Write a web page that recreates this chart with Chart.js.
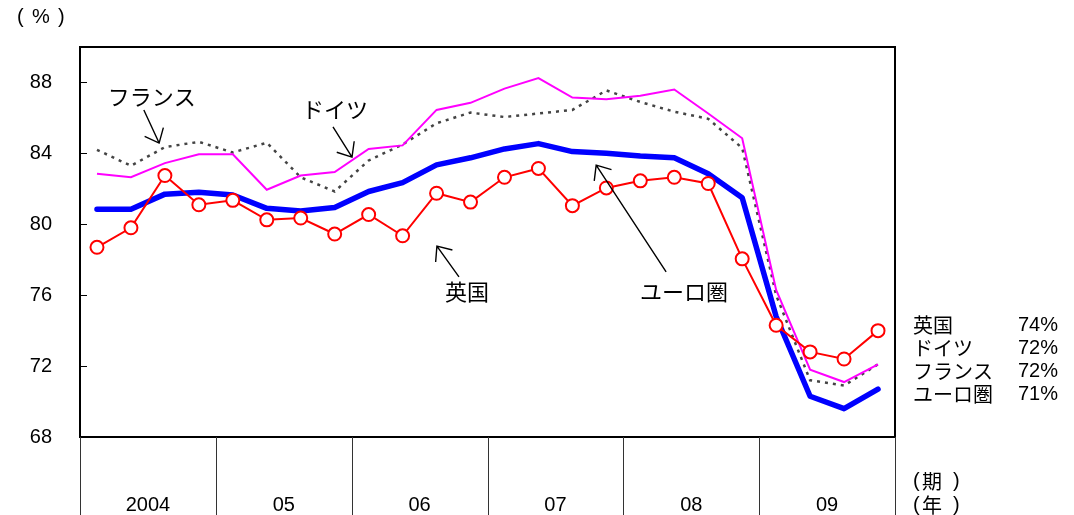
<!DOCTYPE html>
<html lang="ja">
<head>
<meta charset="UTF-8">
<title>製造業稼働率</title>
<script src="https://cdn.jsdelivr.net/npm/chart.js"></script>
<style>
  html, body { margin: 0; padding: 0; background: #fff; }
  #wrap { width: 1074px; height: 515px; }
</style>
</head>
<body>
<div id="wrap"><canvas id="chart" width="1074" height="515"></canvas></div>
<script>
// 2004Q1 - 2009Q4, quarterly capacity utilisation (%)
const years = ['2004', '05', '06', '07', '08', '09'];
const quarters = years.flatMap(y => ['1', '2', '3', '4'].map(q => y + '-' + q));

const uk      = [78.7, 79.8, 82.75, 81.1, 81.35, 80.25, 80.35, 79.45, 80.55, 79.35, 81.75, 81.25,
                 82.65, 83.15, 81.05, 82.05, 82.45, 82.65, 82.3, 78.05, 74.3, 72.8, 72.4, 74.0];
const euro    = [80.85, 80.85, 81.7, 81.8, 81.65, 80.9, 80.75, 80.95, 81.85, 82.35, 83.35, 83.75,
                 84.25, 84.55, 84.1, 84.0, 83.85, 83.75, 82.85, 81.5, 74.8, 70.3, 69.6, 70.7];
const germany = [82.85, 82.65, 83.45, 83.95, 83.95, 81.95, 82.75, 82.95, 84.25, 84.45, 86.45, 86.85,
                 87.65, 88.25, 87.15, 87.05, 87.25, 87.6, 86.25, 84.85, 76.3, 71.8, 71.1, 72.1];
const france  = [84.2, 83.3, 84.35, 84.65, 84.05, 84.6, 82.65, 81.85, 83.6, 84.5, 85.7, 86.3,
                 86.05, 86.25, 86.45, 87.55, 86.9, 86.35, 85.95, 84.3, 76.0, 71.2, 70.9, 72.1];

const yTicks = [68, 72, 76, 80, 84, 88];

// latest values shown on the right
const lastNames  = ['英国', 'ドイツ', 'フランス', 'ユーロ圏'];
const lastValues = ['74%', '72%', '72%', '71%'];

const jpFont = '"Noto Sans CJK JP", sans-serif';
const numFont = '"Liberation Sans", Arial, sans-serif';

// callouts, in data space: text anchor (index, value), arrow tail -> tip
const callouts = [
  { text: 'フランス', at: [0.32, 87.18], tail: [1.38, 86.45], tip: [1.83, 84.58] },
  { text: 'ドイツ',   at: [6.04, 86.45], tail: [6.95, 85.49], tip: [7.51, 83.79] },
  { text: '英国',     at: [10.25, 76.18], tail: [10.66, 77.03], tip: [10.01, 78.77] },
  { text: 'ユーロ圏', at: [15.99, 76.18], tail: [16.76, 77.31], tip: [14.70, 83.34] }
];

function arrow(ctx, x1, y1, x2, y2) {
  const a = Math.atan2(y2 - y1, x2 - x1);
  const h = 16, s = 0.7;
  ctx.beginPath();
  ctx.moveTo(x1, y1);
  ctx.lineTo(x2, y2);
  ctx.moveTo(x2 - h * Math.cos(a - s), y2 - h * Math.sin(a - s));
  ctx.lineTo(x2, y2);
  ctx.lineTo(x2 - h * Math.cos(a + s), y2 - h * Math.sin(a + s));
  ctx.stroke();
}

const decor = {
  id: 'decor',
  afterDraw(chart) {
    const { ctx, chartArea: ca, scales: { x, y } } = chart;
    const H = chart.height;
    ctx.save();

    // frame
    ctx.strokeStyle = '#000';
    ctx.lineWidth = 2;
    ctx.strokeRect(ca.left, ca.top, ca.right - ca.left, ca.bottom - ca.top);

    // inward y ticks
    ctx.lineWidth = 1.2;
    ctx.beginPath();
    yTicks.forEach(v => {
      const py = Math.round(y.getPixelForValue(v)) + 0.5;
      ctx.moveTo(ca.left, py);
      ctx.lineTo(ca.left + 7, py);
    });
    ctx.stroke();

    // year separators below the plot
    ctx.strokeStyle = '#333';
    ctx.lineWidth = 1;
    ctx.beginPath();
    for (let k = 0; k <= years.length; k++) {
      let px;
      if (k === 0) px = ca.left;
      else if (k === years.length) px = ca.right;
      else px = (x.getPixelForValue(4 * k - 1) + x.getPixelForValue(4 * k)) / 2;
      px = Math.round(px) + 0.5;
      ctx.moveTo(px, ca.bottom);
      ctx.lineTo(px, H);
    }
    ctx.stroke();

    ctx.fillStyle = '#000';
    ctx.font = '20px ' + numFont;
    ctx.textAlign = 'center';
    ctx.textBaseline = 'middle';
    years.forEach((yr, k) => {
      const px = (x.getPixelForValue(4 * k + 1) + x.getPixelForValue(4 * k + 2)) / 2;
      ctx.fillText(yr, px, 505);
    });

    // unit labels
    ctx.font = '20px ' + numFont;
    ctx.textAlign = 'left';
    ctx.fillText('(', 17, 17);
    ctx.fillText('%', 32, 17);
    ctx.fillText(')', 58, 17);

    const ux = ca.right + 18;
    ctx.fillText('(', ux, 481);
    ctx.fillText(')', ux + 40, 481);
    ctx.fillText('(', ux, 505);
    ctx.fillText(')', ux + 40, 505);
    ctx.font = '20px ' + jpFont;
    ctx.fillText('期', ux + 9, 481);
    ctx.fillText('年', ux + 9, 505);

    // latest values block
    lastNames.forEach((n, i) => {
      const py = 325 + i * 23.3;
      ctx.font = '20px ' + jpFont;
      ctx.textAlign = 'left';
      ctx.fillText(n, ux, py);
      ctx.font = '20px ' + numFont;
      ctx.textAlign = 'right';
      ctx.fillText(lastValues[i], 1058, py);
    });

    // callouts
    ctx.font = '22px ' + jpFont;
    ctx.textAlign = 'left';
    ctx.strokeStyle = '#000';
    ctx.lineWidth = 1.4;
    callouts.forEach(c => {
      ctx.fillText(c.text, x.getPixelForValue(c.at[0]), y.getPixelForValue(c.at[1]));
      arrow(ctx,
        x.getPixelForValue(c.tail[0]), y.getPixelForValue(c.tail[1]),
        x.getPixelForValue(c.tip[0]), y.getPixelForValue(c.tip[1]));
    });

    ctx.restore();
  }
};

new Chart(document.getElementById('chart'), {
  type: 'line',
  data: {
    labels: quarters,
    datasets: [
      {
        label: '英国',
        data: uk,
        borderColor: '#ff0000',
        borderWidth: 2,
        pointRadius: 6.5,
        pointBorderWidth: 2,
        pointBackgroundColor: '#ffffff',
        pointBorderColor: '#ff0000',
        tension: 0
      },
      {
        label: 'ユーロ圏',
        data: euro,
        borderColor: '#0000ff',
        borderWidth: 5.5,
        pointRadius: 0,
        borderJoinStyle: 'round',
        borderCapStyle: 'round',
        tension: 0
      },
      {
        label: 'ドイツ',
        data: germany,
        borderColor: '#ff00ff',
        borderWidth: 2,
        pointRadius: 0,
        tension: 0
      },
      {
        label: 'フランス',
        data: france,
        borderColor: '#444444',
        borderWidth: 2.5,
        borderDash: [3, 5],
        pointRadius: 0,
        tension: 0
      }
    ]
  },
  options: {
    responsive: false,
    animation: false,
    events: [],
    layout: { padding: { top: 47, right: 179, bottom: 78, left: 0 } },
    plugins: {
      legend: { display: false },
      tooltip: { enabled: false }
    },
    scales: {
      x: {
        type: 'category',
        offset: true,
        display: false
      },
      y: {
        min: 68,
        max: 90,
        afterBuildTicks: s => { s.ticks = yTicks.map(v => ({ value: v })); },
        afterFit: s => { s.width = 80; },
        grid: { display: false, drawTicks: false },
        border: { display: false },
        ticks: {
          color: '#000',
          padding: 28,
          font: { family: numFont, size: 20 }
        }
      }
    }
  },
  plugins: [decor]
});
</script>
</body>
</html>
